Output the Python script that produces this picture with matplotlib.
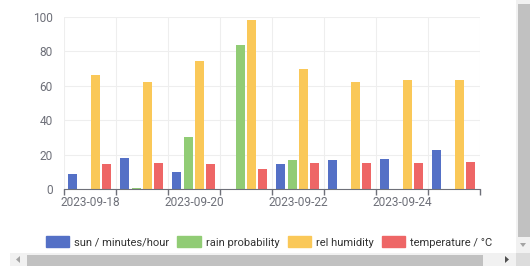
import matplotlib.pyplot as plt
import matplotlib.dates as mdates
from matplotlib.patches import Rectangle, Polygon, FancyBboxPatch
import numpy as np
import datetime as dt

plt.rcParams['font.family'] = ['Roboto', 'DejaVu Sans']

# data per day
days = ['2023-09-18', '2023-09-19', '2023-09-20', '2023-09-21',
        '2023-09-22', '2023-09-23', '2023-09-24', '2023-09-25']
sun = [9, 18, 10, 0, 14.4, 17.1, 17.7, 22.5]
rain = [0, 0.5, 30, 84, 16.7, 0, 0, 0]
humidity = [66, 62, 74.5, 98, 70, 62.3, 63.3, 63.5]
temperature = [14.4, 15.3, 14.6, 11.6, 15.3, 15.3, 15.3, 15.9]

series = [
    ('sun / minutes/hour', sun, '#5470c6'),
    ('rain probability', rain, '#91cc75'),
    ('rel humidity', humidity, '#fac858'),
    ('temperature / °C', temperature, '#ee6666'),
]

W, H = 530, 266
fig = plt.figure(figsize=(W / 100, H / 100), dpi=100)
ax = fig.add_axes([64 / W, (H - 189) / H, (480 - 64) / W, (189 - 17) / H])

x0 = mdates.date2num([dt.datetime.strptime(d, '%Y-%m-%d') for d in days])
width = 9 / 52
offsets = [0.17, 0.385, 0.605, 0.82]
for (name, vals, col), off in zip(series, offsets):
    ax.bar(x0 + off, vals, width=width, color=col, label=name, zorder=3)

ax.set_xlim(x0[0], x0[-1] + 1)
ax.set_ylim(0, 100)
ax.set_yticks([0, 20, 40, 60, 80, 100])
ax.set_xticks(x0 + 0.5)
ax.set_xticklabels([d if i % 2 == 0 else '' for i, d in enumerate(days)])
ax.set_xticks(np.append(x0, x0[-1] + 1), minor=True)
ax.tick_params(axis='x', which='major', length=0, pad=5, labelsize=8.6, colors='#6e7079')
ax.tick_params(axis='x', which='minor', length=4, color='#6e7079', width=1)
ax.tick_params(axis='y', length=0, pad=8, labelsize=8.6, colors='#6e7079')

ax.grid(True, axis='y', color='#eeeeee', lw=0.8, zorder=0)
ax.grid(True, axis='x', which='minor', color='#eeeeee', lw=0.8, zorder=0)
for s in ['top', 'right', 'left']:
    ax.spines[s].set_visible(False)
ax.spines['bottom'].set_color('#6e7079')
ax.spines['bottom'].set_zorder(4)

# legend
handles = [FancyBboxPatch((0, 0), 1, 1, color=c) for _, _, c in series]
leg = fig.legend(handles, [s[0] for s in series], loc='center', ncol=4,
                 bbox_to_anchor=(269 / W, (H - 242) / H), frameon=False,
                 fontsize=8.0, handlelength=2.1, handleheight=1.15,
                 handletextpad=0.45, columnspacing=0.75, labelcolor='#333333')


def px(x, y, w, h, **kw):
    fig.add_artist(Rectangle((x / W, (H - y - h) / H), w / W, h / H,
                             transform=fig.transFigure, lw=0, **kw))


def tri(pts, **kw):
    fig.add_artist(Polygon([(a / W, (H - b) / H) for a, b in pts],
                           transform=fig.transFigure, lw=0, **kw))


# browser scrollbars
px(516, 0, 14, 253, color='#f1f1f1')
px(517.5, 4, 12, 233, color='#c1c1c1')
tri([(520, 243), (526, 243), (523, 247)], color='#a3a3a3')
px(10, 253, 506, 13, color='#f1f1f1')
px(27, 254.5, 456, 11.5, color='#c1c1c1')
px(516, 253, 14, 13, color='#dcdcdc')
tri([(20, 256), (20, 263), (16, 259.5)], color='#a3a3a3')
tri([(505, 256), (505, 263), (509, 259.5)], color='#505050')

fig.savefig('out.png', dpi=100)
